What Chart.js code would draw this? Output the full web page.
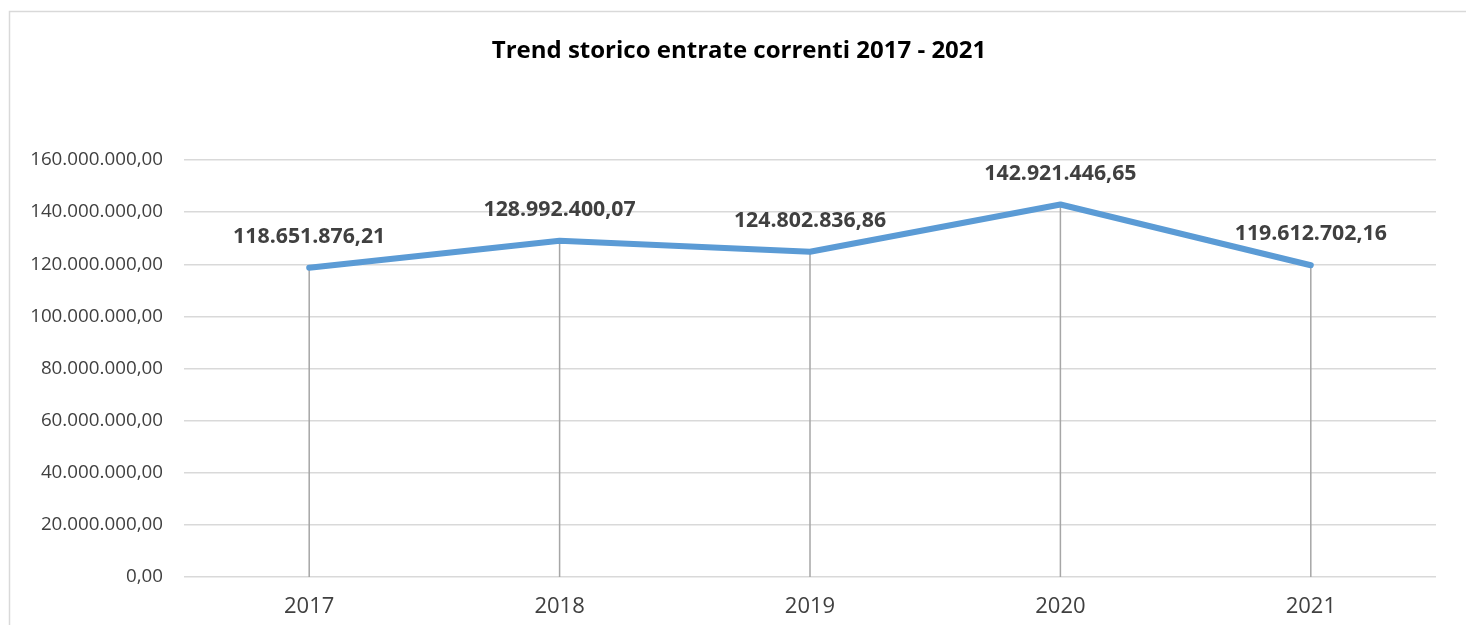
<!DOCTYPE html>
<html>
<head>
<meta charset="utf-8">
<script src="https://cdn.jsdelivr.net/npm/chart.js@4.4.0/dist/chart.umd.min.js"></script>
<style>
html,body{margin:0;padding:0;background:#fff;}
#wrap{position:relative;width:1466px;height:625px;overflow:hidden;}
canvas{display:block;}
</style>
</head>
<body>
<div id="wrap"><canvas id="c" width="1466" height="625"></canvas></div>
<script>
const titleText = 'Trend storico entrate correnti 2017 - 2021';
const categories = ['2017', '2018', '2019', '2020', '2021'];
const values = [118651876.21, 128992400.07, 124802836.86, 142921446.65, 119612702.16];
const yTicks = [0, 20000000, 40000000, 60000000, 80000000, 100000000, 120000000, 140000000, 160000000];

function fmtIt(v) {
  const neg = v < 0;
  v = Math.abs(v);
  const fixed = v.toFixed(2);
  let [int, dec] = fixed.split('.');
  int = int.replace(/\B(?=(\d{3})+(?!\d))/g, '.');
  return (neg ? '-' : '') + int + ',' + dec;
}

const FONT = "'Open Sans', 'Liberation Sans', sans-serif";

const framePlugin = {
  id: 'frame',
  beforeDraw(chart) {
    const ctx = chart.ctx;
    ctx.save();
    ctx.strokeStyle = '#d9d9d9';
    ctx.lineWidth = 1.5;
    ctx.beginPath();
    ctx.moveTo(9.5, 700);
    ctx.lineTo(9.5, 11.5);
    ctx.lineTo(1466, 11.5);
    ctx.stroke();
    ctx.fillStyle = '#000';
    ctx.font = "bold 24px " + FONT;
    ctx.textAlign = 'center';
    ctx.textBaseline = 'middle';
    ctx.fillText(titleText, 739, 51);
    ctx.restore();
  }
};

const dropPlugin = {
  id: 'drops',
  beforeDatasetsDraw(chart) {
    const ctx = chart.ctx;
    const meta = chart.getDatasetMeta(0);
    const bottom = chart.scales.y.getPixelForValue(0);
    ctx.save();
    ctx.strokeStyle = '#a6a6a6';
    ctx.lineWidth = 1.5;
    meta.data.forEach(pt => {
      ctx.beginPath();
      ctx.moveTo(pt.x, pt.y);
      ctx.lineTo(pt.x, bottom);
      ctx.stroke();
    });
    ctx.restore();
  },
  afterDatasetsDraw(chart) {
    const ctx = chart.ctx;
    const meta = chart.getDatasetMeta(0);
    ctx.save();
    ctx.fillStyle = '#404040';
    ctx.font = "bold 21.3px " + FONT;
    ctx.textAlign = 'center';
    ctx.textBaseline = 'middle';
    meta.data.forEach((pt, i) => {
      ctx.fillText(fmtIt(values[i]), pt.x, pt.y - 31);
    });
    ctx.restore();
  }
};

new Chart(document.getElementById('c'), {
  type: 'line',
  data: {
    labels: categories,
    datasets: [{
      data: values,
      borderColor: '#5b9bd5',
      borderWidth: 6,
      borderCapStyle: 'round',
      borderJoinStyle: 'round',
      pointRadius: 0,
      tension: 0,
      fill: false
    }]
  },
  options: {
    responsive: false,
    animation: false,
    events: [],
    layout: { padding: { top: 160, right: 30, bottom: 0, left: 0 } },
    plugins: { legend: { display: false }, title: { display: false }, tooltip: { enabled: false } },
    scales: {
      x: {
        offset: true,
        grid: { display: false, drawTicks: false },
        border: { display: false },
        ticks: { color: '#404040', font: { family: FONT, size: 22 }, padding: 17 },
        afterFit(s) { s.height = 48; }
      },
      y: {
        min: 0,
        max: 160000000,
        afterBuildTicks(s) { s.ticks = yTicks.map(v => ({ value: v })); },
        grid: { color: '#d9d9d9', lineWidth: 1.5, drawTicks: false },
        border: { display: false },
        ticks: {
          color: '#404040',
          font: { family: FONT, size: 18.8 },
          padding: 21,
          callback: v => fmtIt(v)
        },
        afterFit(s) { s.width = 184; }
      }
    }
  },
  plugins: [framePlugin, dropPlugin]
});
</script>
</body>
</html>
